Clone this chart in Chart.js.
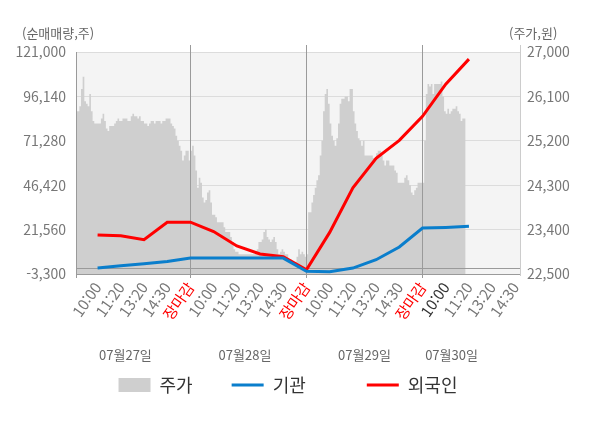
<!DOCTYPE html>
<html lang="ko">
<head>
<meta charset="utf-8">
<script src="https://cdn.jsdelivr.net/npm/chart.js@4.4.0/dist/chart.umd.min.js"></script>
<style>
  html, body { margin: 0; padding: 0; background: #fff; }
</style>
</head>
<body>
<canvas id="myChart" width="600" height="428"></canvas>
<script>
// x axis: 5 label slots per trading day, price sampled 70 times per day
const SLOTS = 5;
const SAMPLES = 70;

let dayLabels = ["07월27일", "07월28일", "07월29일", "07월30일"];
let timeLabels = [
    "10:00", "11:20", "13:20", "14:30", "장마감",
    "10:00", "11:20", "13:20", "14:30", "장마감",
    "10:00", "11:20", "13:20", "14:30", "장마감",
    "10:00", "11:20", "13:20", "14:30"
];
let volumeTicks = [-3300, 21560, 46420, 71280, 96140, 121000];
let priceTicks = [22500, 23400, 24300, 25200, 26100, 27000];

// 주가 (price), one array per day
let price0727 = [
    25800, 25800, 25900, 26250, 26500, 26000, 25950, 25900, 26150, 25800,
    25600, 25550, 25550, 25550, 25550, 25650, 25750, 25600, 25450, 25400,
    25500, 25500, 25500, 25550, 25600, 25650, 25600, 25600, 25650, 25650,
    25650, 25600, 25600, 25700, 25750, 25700, 25700, 25650, 25700, 25600,
    25600, 25550, 25550, 25500, 25550, 25600, 25600, 25550, 25600, 25600,
    25600, 25550, 25600, 25600, 25650, 25650, 25650, 25550, 25500, 25450,
    25300, 25200, 25100, 25000, 24800, 24900, 25000, 25000, 24800, 25000
];
let price0728 = [
    25100, 24900, 24600, 24250, 24450, 24350, 24050, 23950, 24000, 24150,
    24200, 23950, 23700, 23700, 23650, 23550, 23550, 23550, 23550, 23450,
    23350, 23350, 23350, 23250, 23150, 23000, 22950, 22950, 22900, 22900,
    22900, 22900, 22900, 22900, 22900, 22900, 22900, 22900, 22950, 23000,
    23150, 23150, 23200, 23350, 23400, 23250, 23200, 23150, 23200, 23250,
    23150, 23000, 22900, 22950, 23000, 22950, 22900, 22900, 22800, 22800,
    22750, 22700, 22750, 22850, 23000, 22900, 22950, 22900, 22850, 22900
];
let price0729 = [
    23750, 23750, 23950, 24100, 24250, 24400, 24500, 24900, 25200, 25800,
    26150, 26250, 25950, 25550, 25300, 25200, 25100, 25250, 25550, 25950,
    26050, 26050, 26100, 26100, 26000, 26250, 26250, 25800, 25550, 25400,
    25250, 25200, 25100, 25200, 24900, 24900, 24900, 24900, 24900, 24850,
    24850, 24950, 25000, 25000, 24900, 24800, 24700, 24800, 24800, 24700,
    24700, 24700, 24600, 24550, 24350, 24350, 24350, 24350, 24450, 24500,
    24400, 24300, 24150, 24100, 24200, 24250, 24350, 24350, 24350, 24350
];
let price0730 = [
    25200, 26150, 26350, 26300, 26350, 26150, 26350, 26350, 26350, 26350,
    26400, 26100, 25800, 25750, 25850, 25750, 25800, 25850, 25850, 25900,
    25800, 25750, 25600, 25650, 25650, 25650
];

// 순매매량 (cumulative net buying), one value per label slot
let institution = [100, 1300, 2400, 3700, 5600, 5600, 5600, 5600, 5600, -1800, -2000, 0, 4700, 11800, 22400, 22800, 23400];
let foreigner = [18600, 18100, 15900, 25700, 25700, 20500, 12400, 7900, 6400, -900, 20000, 45000, 61500, 71500, 85000, 103000, 117000];

const priceData = [price0727, price0728, price0729, price0730].flatMap((day, d) =>
    day.map((p, i) => ({ x: d * SLOTS + (i + 1) * SLOTS / SAMPLES, y: p }))
);
const slotPoints = arr => arr.map((v, i) => ({ x: i + 1, y: v }));
const dayBreaks = [1, 2, 3].map(d => d * SLOTS);
const fmt = v => v.toLocaleString("en-US");

function tickColor(i) {
    if (timeLabels[i] === "장마감") return "#ff0000";
    if (i === 15) return "#333333";
    return "#777777";
}

// background, separators, titles and day names
const frame = {
    id: "frame",
    beforeDraw(chart) {
        const { ctx, chartArea: a } = chart;
        ctx.save();
        ctx.fillStyle = "#f4f4f4";
        ctx.fillRect(a.left, a.top, a.right - a.left, a.bottom - a.top);
        ctx.restore();
    },
    afterDatasetDraw(chart, args) {
        if (args.index !== 0) return;
        const { ctx, chartArea: a, scales } = chart;
        const px = v => Math.floor(v) + 0.5;
        ctx.save();
        ctx.lineWidth = 1;
        ctx.strokeStyle = "#9a9a9a";
        ctx.beginPath();
        [scales.y.getPixelForValue(0), a.bottom].forEach(y => {
            ctx.moveTo(a.left, px(y));
            ctx.lineTo(a.right, px(y));
        });
        dayBreaks.forEach(v => {
            const x = px(scales.x.getPixelForValue(v));
            ctx.moveTo(x, a.top - 7);
            ctx.lineTo(x, a.bottom + 4);
        });
        ctx.moveTo(px(a.left), a.top);
        ctx.lineTo(px(a.left), a.bottom + 4);
        ctx.stroke();
        ctx.strokeStyle = "#cccccc";
        ctx.beginPath();
        ctx.moveTo(px(a.right), a.top - 7);
        ctx.lineTo(px(a.right), a.bottom + 2);
        ctx.stroke();
        ctx.restore();
    },
    afterDraw(chart) {
        const { ctx, scales } = chart;
        ctx.save();
        ctx.font = "13px 'Noto Sans CJK KR'";
        ctx.fillStyle = "#666666";
        ctx.textBaseline = "middle";
        ctx.textAlign = "left";
        ctx.fillText("(순매매량,주)", 22, 33);
        ctx.fillText("(주가,원)", 509, 33);
        ctx.textAlign = "center";
        const at = [2.2, 7.35, 12.5, 16.25];
        dayLabels.forEach((t, i) => ctx.fillText(t, scales.x.getPixelForValue(at[i]), 355));
        ctx.restore();
    }
};

Chart.defaults.font.family = "'Noto Sans CJK KR', 'Noto Sans', sans-serif";

new Chart(document.getElementById("myChart"), {
    type: "line",
    data: {
        datasets: [
            {
                label: "주가",
                data: priceData,
                yAxisID: "y1",
                order: 1,
                fill: "start",
                stepped: true,
                backgroundColor: "#cfcfcf",
                borderWidth: 0,
                pointRadius: 0,
                pointBorderWidth: 0,
                pointStyle: "rect"
            },
            {
                label: "기관",
                data: slotPoints(institution),
                yAxisID: "y",
                borderColor: "#0a7ecc",
                backgroundColor: "#0a7ecc",
                borderWidth: 3,
                pointRadius: 0,
                pointBorderWidth: 3,
                pointStyle: "line"
            },
            {
                label: "외국인",
                data: slotPoints(foreigner),
                yAxisID: "y",
                borderColor: "#ff0000",
                backgroundColor: "#ff0000",
                borderWidth: 3,
                pointRadius: 0,
                pointBorderWidth: 3,
                pointStyle: "line"
            }
        ]
    },
    options: {
        responsive: false,
        animation: false,
        events: [],
        layout: { padding: { top: 52, right: 24, bottom: 24, left: 0 } },
        plugins: {
            tooltip: { enabled: false },
            legend: {
                position: "bottom",
                labels: {
                    usePointStyle: true,
                    pointStyleWidth: 32,
                    boxHeight: 14,
                    padding: 39,
                    color: "#333333",
                    font: { size: 18 },
                    sort: (a, b) => a.datasetIndex - b.datasetIndex,
                    // the middle item sits a little wider in the original legend
                    generateLabels: chart => Chart.defaults.plugins.legend.labels.generateLabels(chart)
                        .map(l => (l.datasetIndex === 1 ? Object.assign(l, { text: l.text + "\u3000 " }) : l))
                }
            }
        },
        scales: {
            x: {
                type: "linear",
                min: 0.07,
                max: 19.2,
                afterBuildTicks: s => { s.ticks = timeLabels.map((_, i) => ({ value: i + 1 })); },
                afterFit: s => { s.height = 63; },
                ticks: {
                    autoSkip: false,
                    minRotation: 55,
                    maxRotation: 55,
                    padding: 5,
                    font: { size: 15 },
                    color: c => tickColor(c.index),
                    callback: (v, i) => timeLabels[i]
                },
                grid: { display: false, drawTicks: false },
                border: { display: false }
            },
            y: {
                position: "left",
                min: volumeTicks[0],
                max: volumeTicks[volumeTicks.length - 1],
                afterBuildTicks: s => { s.ticks = volumeTicks.map(v => ({ value: v })); },
                afterFit: s => { s.width = 76; },
                ticks: { padding: 10, color: "#777777", font: { size: 14 }, callback: v => fmt(v) },
                grid: { color: "#dcdcdc", drawTicks: false },
                border: { display: false }
            },
            y1: {
                position: "right",
                min: priceTicks[0],
                max: priceTicks[priceTicks.length - 1],
                afterBuildTicks: s => { s.ticks = priceTicks.map(v => ({ value: v })); },
                afterFit: s => { s.width = 56; },
                ticks: { padding: 7, color: "#777777", font: { size: 14 }, callback: v => fmt(v) },
                grid: { display: false, drawTicks: false },
                border: { display: false }
            }
        }
    },
    plugins: [frame]
});
</script>
</body>
</html>
